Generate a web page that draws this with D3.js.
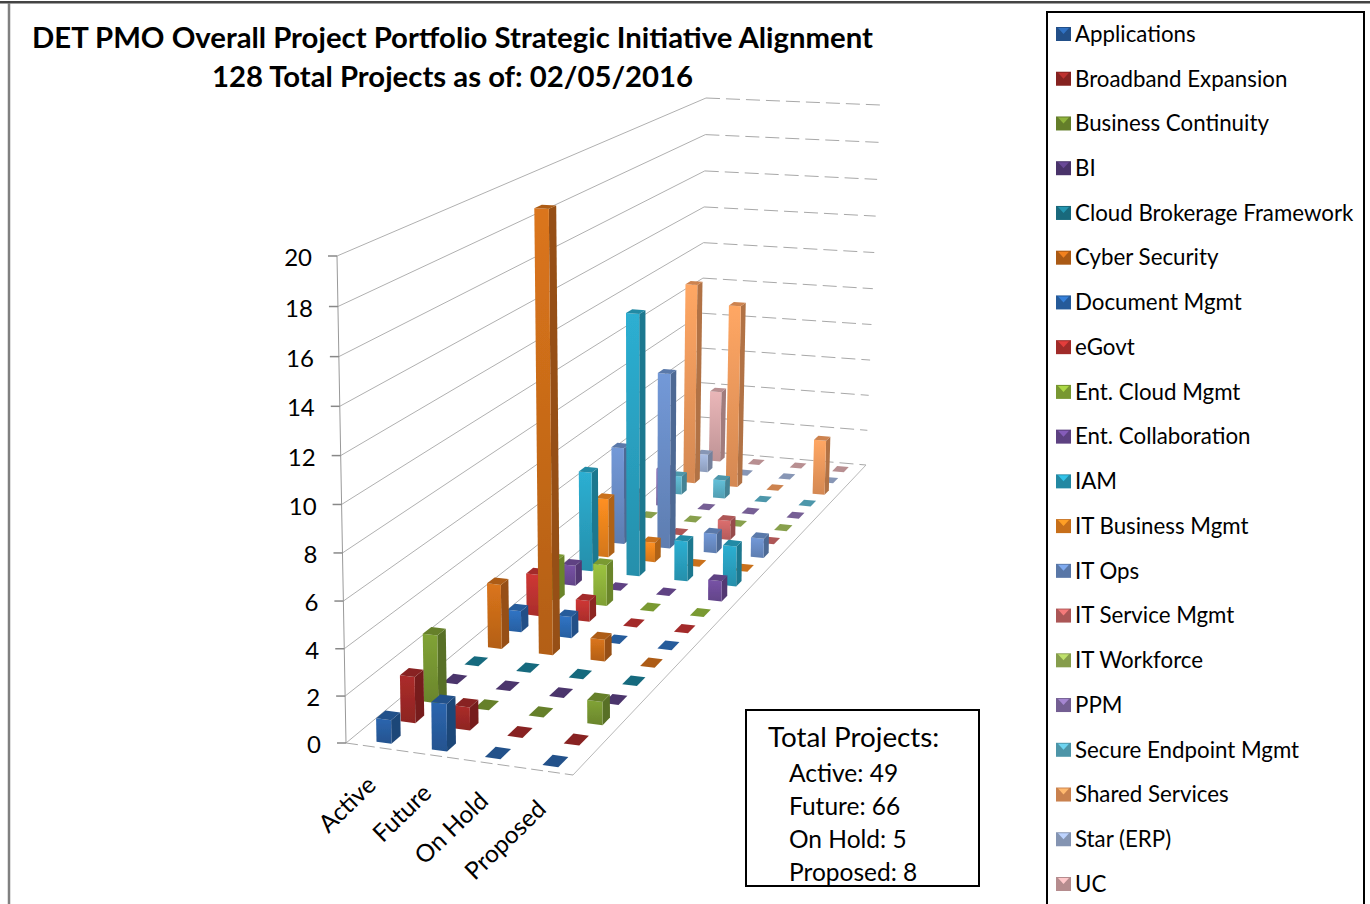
<!DOCTYPE html>
<html>
<head>
<meta charset="utf-8">
<script src="https://cdn.jsdelivr.net/npm/d3@7"></script>
<style>
  html, body { margin: 0; padding: 0; background: #fff; }
  svg { display: block; font-family: Lato, sans-serif; }
</style>
</head>
<body>
<div id="grafico"></div>
<script>
// Chart data
const statuses = ["Active", "Future", "On Hold", "Proposed"];
const seriesNames = ["Applications", "Broadband Expansion", "Business Continuity", "BI",
  "Cloud Brokerage Framework", "Cyber Security", "Document Mgmt", "eGovt", "Ent. Cloud Mgmt",
  "Ent. Collaboration", "IAM", "IT Business Mgmt", "IT Ops", "IT Service Mgmt", "IT Workforce",
  "PPM", "Secure Endpoint Mgmt", "Shared Services", "Star (ERP)", "UC"];
const active   = [1, 2, 3, 0, 0, 3, 1, 2, 2, 1, 5, 3, 5, 2, 0, 2, 1, 11, 1, 4];
const future   = [2, 1, 0, 0, 0, 20, 1, 1, 2, 0, 13, 1, 9, 0, 0, 0, 1, 10, 0, 0];
const onHold   = [0, 0, 0, 0, 0, 1, 0, 0, 0, 0, 2, 0, 1, 1, 0, 0, 0, 0, 0, 0];
const proposed = [0, 0, 1, 0, 0, 0, 0, 0, 0, 1, 2, 0, 1, 0, 0, 0, 0, 3, 0, 0];
const valueTicks = [0, 2, 4, 6, 8, 10, 12, 14, 16, 18, 20];
const totalLines = ["Active: 49", "Future: 66", "On Hold: 5", "Proposed: 8"];

const seriesColors = ["#2a62a8", "#a52a28", "#7c9c34", "#5b3f83", "#1f8299", "#d2701a",
  "#2e6fbd", "#c63533", "#95bb3d", "#7350a0", "#2ba8c9", "#f68a20",
  "#6e93cf", "#d46a6a", "#a6c35e", "#8f74b5", "#5fb8d0", "#f9a060", "#a4b7dc", "#e0aeb0"];

const width = 1370;
const height = 904;

// Corners of the floor and of the plane at the top of the axis
const floorQuad = [[346, 743], [573, 775], [866, 465], [700, 451]];
const topQuad   = [[337, 256], [570, 268], [880, 105], [706, 98]];

// Maps the unit square onto a quadrilateral (perspective)
function quadMap(q) {
  const [p0, p1, p2, p3] = q;
  const dx1 = p1[0] - p2[0], dx2 = p3[0] - p2[0], sx = p0[0] - p1[0] + p2[0] - p3[0];
  const dy1 = p1[1] - p2[1], dy2 = p3[1] - p2[1], sy = p0[1] - p1[1] + p2[1] - p3[1];
  const den = dx1 * dy2 - dx2 * dy1;
  const g = (sx * dy2 - dx2 * sy) / den;
  const h = (dx1 * sy - sx * dy1) / den;
  const a = p1[0] - p0[0] + g * p1[0], b = p3[0] - p0[0] + h * p3[0];
  const d = p1[1] - p0[1] + g * p1[1], e = p3[1] - p0[1] + h * p3[1];
  return (u, v) => {
    const w = g * u + h * v + 1;
    return [(a * u + b * v + p0[0]) / w, (d * u + e * v + p0[1]) / w];
  };
}
const floorAt = quadMap(floorQuad);
const topAt = quadMap(topQuad);

// Scales
const categoryScale = d3.scaleBand().domain(statuses).range([0, 1]);
const seriesScale = d3.scaleBand().domain(seriesNames).range([0, 1]);
const valueScale = d3.scaleLinear().domain([0, 20]).range([0, 1]);
const colorScale = d3.scaleOrdinal().domain(seriesNames).range(seriesColors);

// u = across statuses, v = depth through series, val = chart value
function project(u, v, val) {
  const t = valueScale(val);
  const k = t * 0.96 / (1 - 0.04 * t);
  const f = floorAt(u, v), g = topAt(u, v);
  return [f[0] + (g[0] - f[0]) * k, f[1] + (g[1] - f[1]) * k];
}

const svg = d3.select("#grafico").append("svg")
  .attr("width", width)
  .attr("height", height);
const defs = svg.append("defs");

// Soft edge round the bars
const soft = defs.append("filter").attr("id", "soft");
soft.append("feGaussianBlur").attr("stdDeviation", 0.55);

// Page frame
svg.append("rect").attr("x", 0).attr("y", 1).attr("width", width).attr("height", 2.5).attr("fill", "#444");
svg.append("line").attr("x1", 9).attr("x2", 9).attr("y1", 3).attr("y2", height)
  .attr("stroke", "#808080").attr("stroke-width", 2.5);

// Title
svg.append("text").attr("x", 452.5).attr("y", 48).attr("text-anchor", "middle")
  .attr("font-size", 29.3).attr("font-weight", 700)
  .text("DET PMO Overall Project Portfolio Strategic Initiative Alignment");
svg.append("text").attr("x", 452.5).attr("y", 87).attr("text-anchor", "middle")
  .attr("font-size", 29.3).attr("font-weight", 700)
  .text("128 Total Projects as of: 02/05/2016");

// Gridlines on the two walls
const walls = svg.append("g").attr("fill", "none");
walls.selectAll("path.side").data(valueTicks).enter().append("path")
  .attr("class", "side")
  .attr("d", d => d3.line()([project(0, 0, d), project(0, 1, d)]))
  .attr("stroke", "#b0b0b0").attr("stroke-width", 1);
walls.selectAll("path.back").data(valueTicks).enter().append("path")
  .attr("class", "back")
  .attr("d", d => d3.line()([project(0, 1, d), project(1, 1, d)]))
  .attr("stroke", "#a8a8a8").attr("stroke-width", 1).attr("stroke-dasharray", "14,6");

// Floor edges
walls.append("path").attr("d", d3.line()([project(0, 0, 0), project(1, 0, 0)]))
  .attr("stroke", "#a8a8a8").attr("stroke-dasharray", "12,5");
walls.append("path").attr("d", d3.line()([project(1, 0, 0), project(1, 1, 0)]))
  .attr("stroke", "#b8b8b8");

// Value axis
walls.append("path").attr("d", d3.line()([project(0, 0, 0), project(0, 0, 20)]))
  .attr("stroke", "#999");
const ticks = svg.append("g").selectAll("g").data(valueTicks).enter().append("g")
  .attr("transform", d => `translate(${project(0, 0, d)})`);
ticks.append("line").attr("x1", -9).attr("x2", 0).attr("stroke", "#888").attr("stroke-width", 1.5);
ticks.append("text").attr("x", -25).attr("dy", "0.42em").attr("text-anchor", "end")
  .attr("font-size", 24).text(d => d);

// Status labels
svg.append("g").selectAll("text").data(statuses).enter().append("text")
  .attr("transform", d => {
    const p = project(categoryScale(d) + categoryScale.bandwidth() / 2, 0, 0);
    return `translate(${p[0] + 4},${p[1] + 40}) rotate(-44)`;
  })
  .attr("text-anchor", "end").attr("font-size", 24.4).text(d => d);

// One record per bar, drawn from back to front
const columns = [active, future, onHold, proposed];
const bars = [];
seriesNames.forEach((name, i) => {
  statuses.forEach((status, j) => {
    bars.push({ name, status, value: columns[j][i] });
  });
});
bars.sort((a, b) => d3.descending(seriesNames.indexOf(a.name), seriesNames.indexOf(b.name)));

// Gradients for the front faces
seriesNames.forEach((name, i) => {
  const c = d3.color(colorScale(name));
  const grad = defs.append("linearGradient").attr("id", "grad" + i)
    .attr("x1", 0).attr("y1", 0).attr("x2", 0).attr("y2", 1);
  grad.append("stop").attr("offset", "0%").attr("stop-color", c.brighter(0.12).formatHex());
  grad.append("stop").attr("offset", "100%").attr("stop-color", c.darker(0.45).formatHex());
});

const halfU = 0.034, halfV = 0.0095;
const poly = pts => "M" + pts.map(p => p.join(",")).join("L") + "Z";

const barGroups = svg.append("g").attr("filter", "url(#soft)")
  .selectAll("g").data(bars).enter().append("g");

barGroups.each(function (d) {
  const g = d3.select(this);
  // Empty bars sit a little to the left and are a little deeper than the real ones
  const shiftU = d.value > 0 ? 0.022 : 0.008;
  const shiftV = d.value > 0 ? -0.004 : -0.002;
  const depth = d.value > 0 ? halfV : halfV * 1.25;
  const u = categoryScale(d.status) + categoryScale.bandwidth() / 2 + shiftU;
  const v = seriesScale(d.name) + seriesScale.bandwidth() / 2 + shiftV;
  const c = d3.color(colorScale(d.name));
  const u0 = u - halfU, u1 = u + halfU, v0 = v - depth, v1 = v + depth;
  if (d.value > 0) {
    g.append("path").attr("fill", c.darker(0.95).formatHex())
      .attr("d", poly([project(u1, v0, 0), project(u1, v1, 0), project(u1, v1, d.value), project(u1, v0, d.value)]));
    g.append("path").attr("fill", `url(#grad${seriesNames.indexOf(d.name)})`)
      .attr("d", poly([project(u0, v0, 0), project(u1, v0, 0), project(u1, v0, d.value), project(u0, v0, d.value)]));
  }
  g.append("path").attr("fill", c.darker(0.55).formatHex())
    .attr("d", poly([project(u0, v0, d.value), project(u1, v0, d.value), project(u1, v1, d.value), project(u0, v1, d.value)]));
});

// Box with the totals
const totals = svg.append("g").attr("transform", "translate(746,710)");
totals.append("rect").attr("width", 233).attr("height", 176)
  .attr("fill", "#fff").attr("stroke", "#000").attr("stroke-width", 2);
totals.append("text").attr("x", 22).attr("y", 37).attr("font-size", 27.8).text("Total Projects:");
totals.selectAll("text.line").data(totalLines).enter().append("text")
  .attr("class", "line").attr("x", 43).attr("y", (d, i) => 72 + i * 33).attr("font-size", 24.5).text(d => d);

// Legend
const legend = svg.append("g").attr("transform", "translate(1047,12)");
legend.append("rect").attr("width", 317).attr("height", 910)
  .attr("fill", "#fff").attr("stroke", "#000").attr("stroke-width", 2);
const legendY = d3.scalePoint().domain(seriesNames).range([22, 872]);
const items = legend.selectAll("g.item").data(seriesNames).enter().append("g")
  .attr("class", "item").attr("transform", d => `translate(9,${legendY(d)})`);
items.append("rect").attr("y", -7).attr("width", 15).attr("height", 14)
  .attr("fill", d => d3.color(colorScale(d)).darker(0.6).formatHex());
items.append("path").attr("d", "M2,-6L13,-6L7.5,0Z")
  .attr("fill", d => d3.color(colorScale(d)).brighter(0.4).formatHex());
items.append("text").attr("x", 19).attr("dy", "0.35em").attr("font-size", 22.3).text(d => d);
</script>
</body>
</html>
